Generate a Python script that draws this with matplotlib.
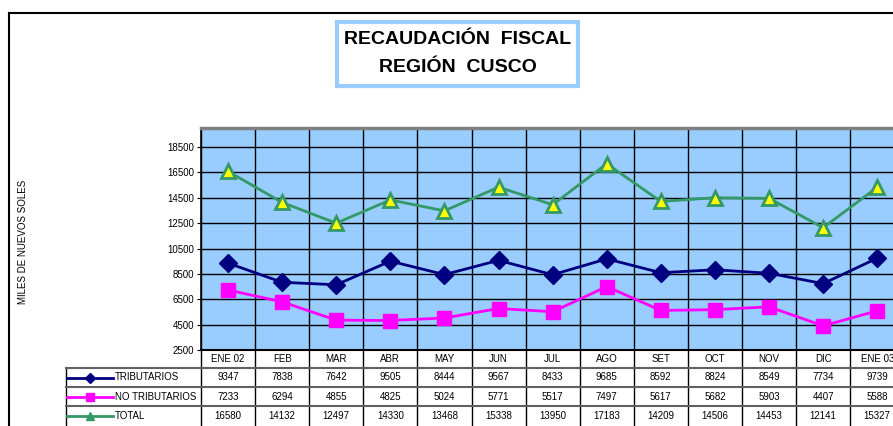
import numpy as np
import matplotlib.pyplot as plt
from matplotlib.lines import Line2D
from matplotlib.patches import Rectangle

plt.rcParams['font.family'] = ['Liberation Sans', 'DejaVu Sans']

meses = ['ENE 02', 'FEB', 'MAR', 'ABR', 'MAY', 'JUN', 'JUL', 'AGO', 'SET', 'OCT', 'NOV', 'DIC', 'ENE 03']
tributarios = [9347, 7838, 7642, 9505, 8444, 9567, 8433, 9685, 8592, 8824, 8549, 7734, 9739]
no_tributarios = [7233, 6294, 4855, 4825, 5024, 5771, 5517, 7497, 5617, 5682, 5903, 4407, 5588]
total = [16580, 14132, 12497, 14330, 13468, 15338, 13950, 17183, 14209, 14506, 14453, 12141, 15327]
yticks = list(range(2500, 18501, 2000))

series = [
    ('TRIBUTARIOS', tributarios, dict(color='#000080', marker='D', ms=9, mfc='#000080', mec='#000080')),
    ('NO TRIBUTARIOS', no_tributarios, dict(color='#FF00FF', marker='s', ms=10, mfc='#FF00FF', mec='#FF00FF')),
    ('TOTAL', total, dict(color='#339966', marker='^', ms=10, mfc='#FFFF00', mec='#339966', mew=2)),
]

W, H = 893, 426
fig = plt.figure(figsize=(W / 100, H / 100), dpi=100)

# pixel layout
x0, colw, ncat = 201, 54.1, len(meses)
y_top, y_bot = 128, 350
row_edges = [350, 368, 387, 406, 426]
leg_x0 = 66


def fx(px):
    return px / W


def fy(py):
    return 1 - py / H


ax = fig.add_axes([fx(x0), fy(y_bot), fx(colw * ncat), fy(y_top) - fy(y_bot)])
ax.set_facecolor('#99CCFF')
x = np.arange(ncat)
for name, vals, st in series:
    ax.plot(x, vals, lw=2, zorder=3, clip_on=False, **st)
ax.set_xlim(-0.5, ncat - 0.5)
ax.set_ylim(2500, 20000)
ax.set_yticks(yticks)
ax.set_yticklabels([str(t) for t in yticks], fontsize=7)
ax.tick_params(axis='y', direction='out', length=3, width=0.8, pad=2)
ax.set_xticks(np.arange(ncat + 1) - 0.5)
ax.set_xticklabels([])
ax.tick_params(axis='x', length=0)
ax.grid(True, color='black', lw=1)
ax.set_axisbelow(True)
for side in ['right', 'bottom', 'left']:
    ax.spines[side].set_color('black')
ax.spines['top'].set_color('#808080')
ax.spines['top'].set_linewidth(2.5)
ax.spines['bottom'].set_linewidth(1.5)
ax.spines['left'].set_linewidth(1.2)

fig.text(fx(23), fy(242), 'MILES DE NUEVOS SOLES', rotation=90, fontsize=7,
         ha='center', va='center')

# data table below the plot
tab = fig.add_axes([fx(x0), fy(row_edges[-1]), fx(colw * ncat), fy(row_edges[0]) - fy(row_edges[-1])])
tab.set_xlim(-0.5, ncat - 0.5)
tab.set_ylim(row_edges[-1], row_edges[0])
tab.axis('off')
leg_left = -0.5 - (x0 - leg_x0) / colw

for k in range(ncat + 1):
    tab.plot([k - 0.5, k - 0.5], [row_edges[0], row_edges[-1]], color='black', lw=1, clip_on=False)
tab.plot([leg_left, leg_left], [row_edges[1], row_edges[-1]], color='black', lw=1, clip_on=False)
for r in row_edges[1:-1]:
    tab.plot([leg_left, ncat - 0.5], [r, r], color='#606060', lw=1.5, clip_on=False)

hdr_y = (row_edges[0] + row_edges[1]) / 2
for i, m in enumerate(meses):
    tab.text(i, hdr_y, m, ha='center', va='center', fontsize=7)

for j, (name, vals, st) in enumerate(series):
    yc = (row_edges[j + 1] + row_edges[j + 2]) / 2
    for i, v in enumerate(vals):
        tab.text(i, yc, str(v), ha='center', va='center', fontsize=7)
    lx0 = leg_left + 1 / colw
    lx1 = leg_left + 47 / colw
    tab.plot([lx0, lx1], [yc, yc], color=st['color'], lw=2, clip_on=False)
    small = dict(st)
    small['ms'] = st['ms'] * 0.55
    small.pop('mew', None)
    small['mfc'] = st['color']
    small['mec'] = st['color']
    tab.plot([(lx0 + lx1) / 2], [yc], ls='none', clip_on=False, **small)
    tab.text(lx1 + 2 / colw, yc, name, ha='left', va='center', fontsize=7)

# title box
fig.patches.append(Rectangle((fx(337), fy(86)), fx(578 - 337), fy(22) - fy(86),
                             transform=fig.transFigure, fill=False,
                             edgecolor='#99CCFF', lw=3))
fig.text(fx(458), fy(40), 'RECAUDACIÓN  FISCAL', ha='center', va='center',
         fontsize=14, fontweight='bold')
fig.text(fx(458), fy(67), 'REGIÓN  CUSCO', ha='center', va='center',
         fontsize=14, fontweight='bold')

# outer chart border
fig.add_artist(Line2D([fx(9), fx(9)], [fy(13), 0], transform=fig.transFigure, color='black', lw=1.5))
fig.add_artist(Line2D([fx(9), 1], [fy(13), fy(13)], transform=fig.transFigure, color='black', lw=1.5))

fig.savefig('out.png', dpi=100)
